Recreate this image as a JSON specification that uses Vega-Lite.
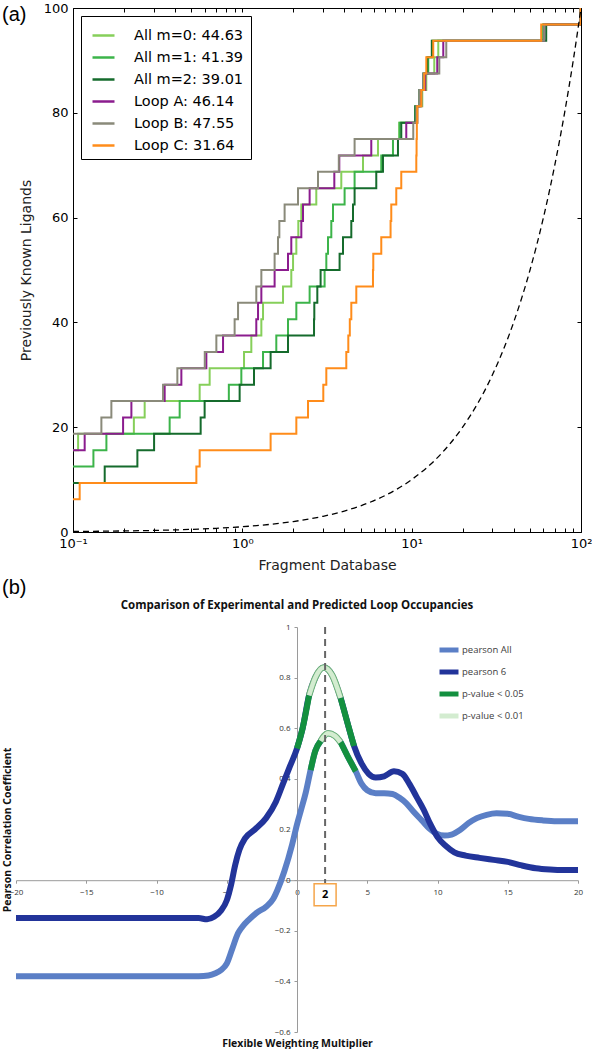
{
"$schema":"https://vega.github.io/schema/vega-lite/v6.json",
"background":"white",
"padding":{"left":2,"top":1,"right":0,"bottom":0},
"spacing":4,
"title":{"text":"(a)","anchor":"start","frame":"bounds","offset":-23,"font":"Liberation Sans","fontSize":20,"fontWeight":"normal","color":"black"},
"config":{"view":{"stroke":null}},
"resolve":{"scale":{"color":"independent"},"legend":{"color":"independent"}},
"datasets":{
"steps":[
{"series":"All m=0: 44.63","x":0.1,"y":15.625},{"series":"All m=0: 44.63","x":0.1072,"y":18.75},{"series":"All m=0: 44.63","x":0.2288,"y":21.875},{"series":"All m=0: 44.63","x":0.265,"y":25},{"series":"All m=0: 44.63","x":0.5597,"y":28.125},{"series":"All m=0: 44.63","x":0.6412,"y":31.25},{"series":"All m=0: 44.63","x":1.0233,"y":34.375},{"series":"All m=0: 44.63","x":1.13,"y":37.5},{"series":"All m=0: 44.63","x":1.295,"y":40.625},{"series":"All m=0: 44.63","x":1.325,"y":43.75},{"series":"All m=0: 44.63","x":1.739,"y":46.875},{"series":"All m=0: 44.63","x":1.946,"y":50},{"series":"All m=0: 44.63","x":1.993,"y":53.125},{"series":"All m=0: 44.63","x":2.084,"y":56.25},{"series":"All m=0: 44.63","x":2.141,"y":59.375},{"series":"All m=0: 44.63","x":2.23,"y":62.5},{"series":"All m=0: 44.63","x":2.734,"y":65.625},{"series":"All m=0: 44.63","x":3.841,"y":68.75},{"series":"All m=0: 44.63","x":5.16,"y":71.875},{"series":"All m=0: 44.63","x":6.325,"y":75},{"series":"All m=0: 44.63","x":8.449,"y":78.125},{"series":"All m=0: 44.63","x":10.79,"y":81.25},{"series":"All m=0: 44.63","x":11.55,"y":84.375},{"series":"All m=0: 44.63","x":12.2,"y":87.5},{"series":"All m=0: 44.63","x":13.6,"y":90.625},{"series":"All m=0: 44.63","x":14.36,"y":93.75},{"series":"All m=0: 44.63","x":59.8,"y":96.875},{"series":"All m=0: 44.63","x":99.5,"y":100},{"series":"All m=0: 44.63","x":100,"y":100},
{"series":"All m=1: 41.39","x":0.1,"y":12.5},{"series":"All m=1: 41.39","x":0.132,"y":15.625},{"series":"All m=1: 41.39","x":0.1575,"y":18.75},{"series":"All m=1: 41.39","x":0.3722,"y":21.875},{"series":"All m=1: 41.39","x":0.4265,"y":25},{"series":"All m=1: 41.39","x":0.8324,"y":28.125},{"series":"All m=1: 41.39","x":0.9865,"y":31.25},{"series":"All m=1: 41.39","x":1.325,"y":34.375},{"series":"All m=1: 41.39","x":1.587,"y":37.5},{"series":"All m=1: 41.39","x":1.861,"y":40.625},{"series":"All m=1: 41.39","x":2.084,"y":43.75},{"series":"All m=1: 41.39","x":2.497,"y":46.875},{"series":"All m=1: 41.39","x":3.061,"y":50},{"series":"All m=1: 41.39","x":3.133,"y":53.125},{"series":"All m=1: 41.39","x":3.206,"y":56.25},{"series":"All m=1: 41.39","x":3.353,"y":59.375},{"series":"All m=1: 41.39","x":3.431,"y":62.5},{"series":"All m=1: 41.39","x":4.017,"y":65.625},{"series":"All m=1: 41.39","x":4.602,"y":68.75},{"series":"All m=1: 41.39","x":6.615,"y":71.875},{"series":"All m=1: 41.39","x":7.755,"y":75},{"series":"All m=1: 41.39","x":8.484,"y":78.125},{"series":"All m=1: 41.39","x":10.5,"y":81.25},{"series":"All m=1: 41.39","x":11.24,"y":84.375},{"series":"All m=1: 41.39","x":11.87,"y":87.5},{"series":"All m=1: 41.39","x":12.53,"y":90.625},{"series":"All m=1: 41.39","x":13.23,"y":93.75},{"series":"All m=1: 41.39","x":59.8,"y":96.875},{"series":"All m=1: 41.39","x":99.5,"y":100},{"series":"All m=1: 41.39","x":100,"y":100},
{"series":"All m=2: 39.01","x":0.1,"y":9.375},{"series":"All m=2: 39.01","x":0.1539,"y":12.5},{"series":"All m=2: 39.01","x":0.24,"y":15.625},{"series":"All m=2: 39.01","x":0.3012,"y":18.75},{"series":"All m=2: 39.01","x":0.5674,"y":21.875},{"series":"All m=2: 39.01","x":0.5989,"y":25},{"series":"All m=2: 39.01","x":0.964,"y":28.125},{"series":"All m=2: 39.01","x":1.172,"y":31.25},{"series":"All m=2: 39.01","x":1.469,"y":34.375},{"series":"All m=2: 39.01","x":1.861,"y":37.5},{"series":"All m=2: 39.01","x":2.651,"y":40.625},{"series":"All m=2: 39.01","x":2.661,"y":43.75},{"series":"All m=2: 39.01","x":2.772,"y":46.875},{"series":"All m=2: 39.01","x":2.899,"y":50},{"series":"All m=2: 39.01","x":3.753,"y":53.125},{"series":"All m=2: 39.01","x":3.931,"y":56.25},{"series":"All m=2: 39.01","x":4.401,"y":59.375},{"series":"All m=2: 39.01","x":4.503,"y":62.5},{"series":"All m=2: 39.01","x":4.602,"y":65.625},{"series":"All m=2: 39.01","x":6.18,"y":68.75},{"series":"All m=2: 39.01","x":6.77,"y":71.875},{"series":"All m=2: 39.01","x":8.3,"y":75},{"series":"All m=2: 39.01","x":8.682,"y":78.125},{"series":"All m=2: 39.01","x":10.5,"y":81.25},{"series":"All m=2: 39.01","x":11.09,"y":84.375},{"series":"All m=2: 39.01","x":11.71,"y":87.5},{"series":"All m=2: 39.01","x":12.37,"y":90.625},{"series":"All m=2: 39.01","x":13.15,"y":93.75},{"series":"All m=2: 39.01","x":62.3,"y":96.875},{"series":"All m=2: 39.01","x":99.5,"y":100},{"series":"All m=2: 39.01","x":100,"y":100},
{"series":"Loop A: 46.14","x":0.1,"y":15.625},{"series":"Loop A: 46.14","x":0.1172,"y":18.75},{"series":"Loop A: 46.14","x":0.1976,"y":21.875},{"series":"Loop A: 46.14","x":0.2212,"y":25},{"series":"Loop A: 46.14","x":0.3478,"y":28.125},{"series":"Loop A: 46.14","x":0.4364,"y":31.25},{"series":"Loop A: 46.14","x":0.613,"y":34.375},{"series":"Loop A: 46.14","x":0.7693,"y":37.5},{"series":"Loop A: 46.14","x":1.209,"y":40.625},{"series":"Loop A: 46.14","x":1.238,"y":43.75},{"series":"Loop A: 46.14","x":1.295,"y":46.875},{"series":"Loop A: 46.14","x":1.551,"y":50},{"series":"Loop A: 46.14","x":1.861,"y":53.125},{"series":"Loop A: 46.14","x":1.946,"y":56.25},{"series":"Loop A: 46.14","x":2.23,"y":59.375},{"series":"Loop A: 46.14","x":2.282,"y":62.5},{"series":"Loop A: 46.14","x":2.497,"y":65.625},{"series":"Loop A: 46.14","x":3.493,"y":68.75},{"series":"Loop A: 46.14","x":3.738,"y":71.875},{"series":"Loop A: 46.14","x":5.774,"y":75},{"series":"Loop A: 46.14","x":9.292,"y":78.125},{"series":"Loop A: 46.14","x":10.79,"y":81.25},{"series":"Loop A: 46.14","x":11.39,"y":84.375},{"series":"Loop A: 46.14","x":12.03,"y":87.5},{"series":"Loop A: 46.14","x":14.16,"y":90.625},{"series":"Loop A: 46.14","x":15.37,"y":93.75},{"series":"Loop A: 46.14","x":60.6,"y":96.875},{"series":"Loop A: 46.14","x":99.5,"y":100},{"series":"Loop A: 46.14","x":100,"y":100},
{"series":"Loop B: 47.55","x":0.1,"y":18.75},{"series":"Loop B: 47.55","x":0.1471,"y":21.875},{"series":"Loop B: 47.55","x":0.1685,"y":25},{"series":"Loop B: 47.55","x":0.3402,"y":28.125},{"series":"Loop B: 47.55","x":0.4133,"y":31.25},{"series":"Loop B: 47.55","x":0.6,"y":34.375},{"series":"Loop B: 47.55","x":0.7023,"y":37.5},{"series":"Loop B: 47.55","x":0.9005,"y":40.625},{"series":"Loop B: 47.55","x":0.9433,"y":43.75},{"series":"Loop B: 47.55","x":1.209,"y":46.875},{"series":"Loop B: 47.55","x":1.295,"y":50},{"series":"Loop B: 47.55","x":1.551,"y":53.125},{"series":"Loop B: 47.55","x":1.624,"y":56.25},{"series":"Loop B: 47.55","x":1.654,"y":59.375},{"series":"Loop B: 47.55","x":1.777,"y":62.5},{"series":"Loop B: 47.55","x":2.132,"y":65.625},{"series":"Loop B: 47.55","x":2.798,"y":68.75},{"series":"Loop B: 47.55","x":3.713,"y":71.875},{"series":"Loop B: 47.55","x":4.602,"y":75},{"series":"Loop B: 47.55","x":10.22,"y":78.125},{"series":"Loop B: 47.55","x":10.65,"y":81.25},{"series":"Loop B: 47.55","x":11.09,"y":84.375},{"series":"Loop B: 47.55","x":11.71,"y":87.5},{"series":"Loop B: 47.55","x":14.56,"y":90.625},{"series":"Loop B: 47.55","x":16.01,"y":93.75},{"series":"Loop B: 47.55","x":60.6,"y":96.875},{"series":"Loop B: 47.55","x":99.5,"y":100},{"series":"Loop B: 47.55","x":100,"y":100},
{"series":"Loop C: 31.64","x":0.1,"y":6.25},{"series":"Loop C: 31.64","x":0.1095,"y":9.375},{"series":"Loop C: 31.64","x":0.5352,"y":12.5},{"series":"Loop C: 31.64","x":0.5597,"y":15.625},{"series":"Loop C: 31.64","x":1.469,"y":18.75},{"series":"Loop C: 31.64","x":2.084,"y":21.875},{"series":"Loop C: 31.64","x":2.443,"y":25},{"series":"Loop C: 31.64","x":3.007,"y":28.125},{"series":"Loop C: 31.64","x":3.133,"y":31.25},{"series":"Loop C: 31.64","x":4.111,"y":34.375},{"series":"Loop C: 31.64","x":4.225,"y":37.5},{"series":"Loop C: 31.64","x":4.312,"y":40.625},{"series":"Loop C: 31.64","x":4.401,"y":43.75},{"series":"Loop C: 31.64","x":4.71,"y":46.875},{"series":"Loop C: 31.64","x":5.909,"y":50},{"series":"Loop C: 31.64","x":5.933,"y":53.125},{"series":"Loop C: 31.64","x":6.615,"y":56.25},{"series":"Loop C: 31.64","x":7.506,"y":59.375},{"series":"Loop C: 31.64","x":7.578,"y":62.5},{"series":"Loop C: 31.64","x":8.111,"y":65.625},{"series":"Loop C: 31.64","x":8.682,"y":68.75},{"series":"Loop C: 31.64","x":10.65,"y":71.875},{"series":"Loop C: 31.64","x":10.69,"y":75},{"series":"Loop C: 31.64","x":10.73,"y":78.125},{"series":"Loop C: 31.64","x":10.79,"y":81.25},{"series":"Loop C: 31.64","x":11.39,"y":84.375},{"series":"Loop C: 31.64","x":11.87,"y":87.5},{"series":"Loop C: 31.64","x":12.2,"y":90.625},{"series":"Loop C: 31.64","x":13.41,"y":93.75},{"series":"Loop C: 31.64","x":58.2,"y":96.875},{"series":"Loop C: 31.64","x":99.5,"y":100},{"series":"Loop C: 31.64","x":100,"y":100}
],
"random":[
{"x":0.1,"y":0.1},{"x":0.2,"y":0.2},{"x":0.3,"y":0.3},{"x":0.5,"y":0.5},{"x":0.7,"y":0.7},{"x":1,"y":1},{"x":1.5,"y":1.5},{"x":2,"y":2},{"x":3,"y":3},{"x":4,"y":4},{"x":5,"y":5},{"x":7,"y":7},{"x":10,"y":10},{"x":15,"y":15},{"x":20,"y":20},{"x":30,"y":30},{"x":40,"y":40},{"x":50,"y":50},{"x":60,"y":60},{"x":70,"y":70},{"x":80,"y":80},{"x":90,"y":90},{"x":100,"y":100}
],
"pearson":[
{"series":"pearson All","x":-20,"y":-0.38},{"series":"pearson All","x":-15,"y":-0.38},{"series":"pearson All","x":-10,"y":-0.38},{"series":"pearson All","x":-7,"y":-0.38},{"series":"pearson All","x":-6.3,"y":-0.377},{"series":"pearson All","x":-5.8,"y":-0.368},{"series":"pearson All","x":-5.4,"y":-0.355},{"series":"pearson All","x":-5.0,"y":-0.33},{"series":"pearson All","x":-4.6,"y":-0.27},{"series":"pearson All","x":-4.2,"y":-0.21},{"series":"pearson All","x":-3.9,"y":-0.185},{"series":"pearson All","x":-3.4,"y":-0.155},{"series":"pearson All","x":-2.9,"y":-0.13},{"series":"pearson All","x":-2.2,"y":-0.105},{"series":"pearson All","x":-1.7,"y":-0.075},{"series":"pearson All","x":-1.4,"y":-0.04},{"series":"pearson All","x":-0.9,"y":0.035},{"series":"pearson All","x":-0.35,"y":0.14},{"series":"pearson All","x":0,"y":0.22},{"series":"pearson All","x":0.3,"y":0.28},{"series":"pearson All","x":0.62,"y":0.345},{"series":"pearson All","x":0.97,"y":0.435},{"series":"pearson All","x":1.3,"y":0.51},{"series":"pearson All","x":1.69,"y":0.55},{"series":"pearson All","x":2.2,"y":0.58},{"series":"pearson All","x":2.7,"y":0.57},{"series":"pearson All","x":3.1,"y":0.545},{"series":"pearson All","x":3.6,"y":0.49},{"series":"pearson All","x":4.18,"y":0.43},{"series":"pearson All","x":4.6,"y":0.38},{"series":"pearson All","x":5.0,"y":0.355},{"series":"pearson All","x":5.6,"y":0.343},{"series":"pearson All","x":6.2,"y":0.343},{"series":"pearson All","x":6.8,"y":0.34},{"series":"pearson All","x":7.3,"y":0.325},{"series":"pearson All","x":7.75,"y":0.305},{"series":"pearson All","x":8.3,"y":0.27},{"series":"pearson All","x":8.9,"y":0.235},{"series":"pearson All","x":9.4,"y":0.205},{"series":"pearson All","x":9.9,"y":0.185},{"series":"pearson All","x":10.5,"y":0.176},{"series":"pearson All","x":11.0,"y":0.18},{"series":"pearson All","x":11.6,"y":0.198},{"series":"pearson All","x":12.2,"y":0.225},{"series":"pearson All","x":12.8,"y":0.245},{"series":"pearson All","x":13.5,"y":0.258},{"series":"pearson All","x":14.2,"y":0.264},{"series":"pearson All","x":15.0,"y":0.262},{"series":"pearson All","x":15.8,"y":0.25},{"series":"pearson All","x":16.5,"y":0.242},{"series":"pearson All","x":17.5,"y":0.236},{"series":"pearson All","x":18.5,"y":0.233},{"series":"pearson All","x":20,"y":0.233},
{"series":"pearson 6","x":-20,"y":-0.15},{"series":"pearson 6","x":-15,"y":-0.15},{"series":"pearson 6","x":-10,"y":-0.15},{"series":"pearson 6","x":-7,"y":-0.15},{"series":"pearson 6","x":-6.4,"y":-0.155},{"series":"pearson 6","x":-5.9,"y":-0.145},{"series":"pearson 6","x":-5.4,"y":-0.12},{"series":"pearson 6","x":-5.0,"y":-0.08},{"series":"pearson 6","x":-4.7,"y":-0.02},{"series":"pearson 6","x":-4.4,"y":0.06},{"series":"pearson 6","x":-4.1,"y":0.12},{"series":"pearson 6","x":-3.7,"y":0.165},{"series":"pearson 6","x":-3.0,"y":0.2},{"series":"pearson 6","x":-2.2,"y":0.245},{"series":"pearson 6","x":-1.5,"y":0.31},{"series":"pearson 6","x":-1.0,"y":0.38},{"series":"pearson 6","x":-0.5,"y":0.45},{"series":"pearson 6","x":0,"y":0.52},{"series":"pearson 6","x":0.4,"y":0.6},{"series":"pearson 6","x":0.86,"y":0.73},{"series":"pearson 6","x":1.3,"y":0.8},{"series":"pearson 6","x":1.9,"y":0.84},{"series":"pearson 6","x":2.5,"y":0.81},{"series":"pearson 6","x":3.1,"y":0.72},{"series":"pearson 6","x":3.6,"y":0.62},{"series":"pearson 6","x":4.06,"y":0.53},{"series":"pearson 6","x":4.6,"y":0.46},{"series":"pearson 6","x":5.1,"y":0.42},{"series":"pearson 6","x":5.6,"y":0.405},{"series":"pearson 6","x":6.2,"y":0.41},{"series":"pearson 6","x":6.9,"y":0.43},{"series":"pearson 6","x":7.5,"y":0.42},{"series":"pearson 6","x":8.0,"y":0.38},{"series":"pearson 6","x":8.5,"y":0.33},{"series":"pearson 6","x":9.0,"y":0.28},{"series":"pearson 6","x":9.5,"y":0.22},{"series":"pearson 6","x":10.0,"y":0.17},{"series":"pearson 6","x":10.6,"y":0.135},{"series":"pearson 6","x":11.2,"y":0.11},{"series":"pearson 6","x":12,"y":0.097},{"series":"pearson 6","x":13,"y":0.088},{"series":"pearson 6","x":14,"y":0.08},{"series":"pearson 6","x":15,"y":0.072},{"series":"pearson 6","x":16,"y":0.058},{"series":"pearson 6","x":17,"y":0.047},{"series":"pearson 6","x":18,"y":0.042},{"series":"pearson 6","x":19,"y":0.04},{"series":"pearson 6","x":20,"y":0.04}
],
"sig05":[
{"series":"p-value < 0.05","seg":"6a","x":0,"y":0.52},{"series":"p-value < 0.05","seg":"6a","x":0.4,"y":0.6},{"series":"p-value < 0.05","seg":"6a","x":0.86,"y":0.73},
{"series":"p-value < 0.05","seg":"6b","x":3.1,"y":0.72},{"series":"p-value < 0.05","seg":"6b","x":3.6,"y":0.62},{"series":"p-value < 0.05","seg":"6b","x":4.06,"y":0.53},
{"series":"p-value < 0.05","seg":"Aa","x":0.97,"y":0.435},{"series":"p-value < 0.05","seg":"Aa","x":1.3,"y":0.51},{"series":"p-value < 0.05","seg":"Aa","x":1.69,"y":0.55},
{"series":"p-value < 0.05","seg":"Ab","x":3.1,"y":0.545},{"series":"p-value < 0.05","seg":"Ab","x":3.6,"y":0.49},{"series":"p-value < 0.05","seg":"Ab","x":4.18,"y":0.43}
],
"sig01":[
{"series":"p-value < 0.01","seg":"6","x":0.86,"y":0.73},{"series":"p-value < 0.01","seg":"6","x":1.3,"y":0.8},{"series":"p-value < 0.01","seg":"6","x":1.9,"y":0.84},{"series":"p-value < 0.01","seg":"6","x":2.5,"y":0.81},{"series":"p-value < 0.01","seg":"6","x":3.1,"y":0.72},
{"series":"p-value < 0.01","seg":"A","x":1.69,"y":0.55},{"series":"p-value < 0.01","seg":"A","x":2.2,"y":0.58},{"series":"p-value < 0.01","seg":"A","x":2.7,"y":0.57},{"series":"p-value < 0.01","seg":"A","x":3.1,"y":0.545}
],
"cut":[{"x":2,"top":1,"bottom":-0.012}],
"marker":[{"x":2,"y":-0.058,"label":"2"}]
},
"vconcat":[
{
"spacing":0,
"resolve":{"scale":{"color":"independent"},"legend":{"color":"independent"}},
"hconcat":[
{"width":2,"height":10,"data":{"values":[]},"mark":"point"},
{
"width":508,"height":524,
"view":{"stroke":"black","strokeWidth":1},
"resolve":{"axis":{"x":"independent","y":"independent"}},
"layer":[
{"data":{"name":"steps"},
"mark":{"type":"line","interpolate":"step-after","strokeWidth":2,"clip":true},
"encoding":{
"x":{"field":"x","type":"quantitative","scale":{"type":"log","domain":[0.1,100],"nice":false},
"axis":{"title":"Fragment Database","values":[0.1,0.2,0.3,0.4,0.5,0.6,0.7,0.8,0.9,1,2,3,4,5,6,7,8,9,10,20,30,40,50,60,70,80,90,100],
"labelExpr":"datum.value == 0.1 ? '10⁻¹' : datum.value == 1 ? '10⁰' : datum.value == 10 ? '10¹' : datum.value == 100 ? '10²' : ''",
"domain":false,"grid":false,"tickSize":-4,"tickColor":"black","labelPadding":9,"labelFont":"DejaVu Sans","labelFontSize":13,"labelColor":"black","labelFlush":false,"labelOverlap":false,"titleFont":"DejaVu Sans","titleFontSize":14,"titleFontWeight":"normal","titleColor":"#222","titlePadding":8}},
"y":{"field":"y","type":"quantitative","scale":{"domain":[0,100],"nice":false},
"axis":{"title":"Previously Known Ligands","values":[0,20,40,60,80,100],"domain":false,"grid":false,"tickSize":-4,"tickColor":"black","labelPadding":9,"labelFont":"DejaVu Sans","labelFontSize":13,"labelColor":"black","titleFont":"DejaVu Sans","titleFontSize":14,"titleFontWeight":"normal","titleColor":"#222","titlePadding":10}},
"color":{"field":"series","type":"nominal",
"scale":{"domain":["All m=0: 44.63","All m=1: 41.39","All m=2: 39.01","Loop A: 46.14","Loop B: 47.55","Loop C: 31.64"],"range":["#86cf5a","#3cb44a","#156b2c","#8b1c8e","#8a8a7a","#ff8c1a"]},
"legend":{"orient":"top-left","offset":8,"title":null,"symbolType":"stroke","symbolStrokeWidth":2.5,"symbolSize":484,"labelFont":"DejaVu Sans","labelFontSize":14.5,"labelColor":"black","labelOffset":18,"symbolOffset":3,"rowPadding":3,"padding":7,"strokeColor":"black","fillColor":"white","cornerRadius":0}}
}},
{"data":{"name":"random"},
"mark":{"type":"line","interpolate":"monotone","strokeDash":[6,4],"strokeWidth":1.3,"color":"black","clip":true},
"encoding":{
"x":{"field":"x","type":"quantitative","axis":{"orient":"top","title":null,"labels":false,"domain":false,"grid":false,"tickSize":-4,"tickColor":"black","values":[0.1,0.2,0.3,0.4,0.5,0.6,0.7,0.8,0.9,1,2,3,4,5,6,7,8,9,10,20,30,40,50,60,70,80,90,100]}},
"y":{"field":"y","type":"quantitative","axis":{"orient":"right","title":null,"labels":false,"domain":false,"grid":false,"tickSize":-4,"tickColor":"black","values":[0,20,40,60,80,100]}}}}
]
}
]
},
{
"title":{"text":"(b)","anchor":"start","frame":"bounds","font":"Liberation Sans","fontSize":20,"fontWeight":"normal","color":"black","offset":2},
"vconcat":[
{
"width":562,"height":405,
"title":{"text":"Comparison of Experimental and Predicted Loop Occupancies","anchor":"middle","frame":"group","font":"Open Sans","fontSize":11.5,"fontWeight":"bold","color":"#111","offset":12},
"layer":[
{"data":{"name":"pearson"},
"mark":{"type":"line","interpolate":"monotone","strokeWidth":6},
"encoding":{
"x":{"field":"x","type":"quantitative","scale":{"domain":[-20,20],"nice":false},
"axis":{"title":"Flexible Weighting Multiplier","values":[-20,-15,-10,-5,0,5,10,15,20],"offset":-151.8,"grid":false,"domainColor":"#9a9a9a","tickColor":"#9a9a9a","tickSize":3,"labelFont":"Open Sans","labelFontSize":8,"labelColor":"#333","labelPadding":5,"labelFlush":false,"labelOverlap":false,"titleFont":"Open Sans","titleFontSize":10.5,"titleFontWeight":"bold","titleColor":"#111","titleY":163,"titleBaseline":"middle"}},
"y":{"field":"y","type":"quantitative","scale":{"domain":[-0.6,1],"nice":false,"zero":false},
"axis":{"title":"Pearson Correlation Coefficient","values":[-0.6,-0.4,-0.2,0,0.2,0.4,0.6,0.8,1],"format":"~g","offset":-281,"grid":false,"domainColor":"#9a9a9a","tickColor":"#9a9a9a","tickSize":3,"labelFont":"Open Sans","labelFontSize":8,"labelColor":"#333","labelPadding":4,"labelOverlap":false,"titleFont":"Open Sans","titleFontSize":10.5,"titleFontWeight":"bold","titleColor":"#111","titleX":-285}},
"color":{"field":"series","type":"nominal",
"scale":{"domain":["pearson All","pearson 6","p-value < 0.05","p-value < 0.01"],"range":["#5b7fc6","#22349a","#13903f","#d3ecd0"]},
"legend":{"orient":"none","legendX":421,"legendY":11,"title":null,"symbolType":"stroke","symbolStrokeWidth":5,"symbolSize":361,"labelFont":"Open Sans","labelFontSize":9.5,"labelColor":"#404040","labelOffset":1,"rowPadding":-3,"padding":0}}
}},
{"data":{"name":"sig05"},
"mark":{"type":"line","interpolate":"monotone","strokeWidth":6},
"encoding":{"x":{"field":"x","type":"quantitative"},"y":{"field":"y","type":"quantitative"},"detail":{"field":"seg"},"color":{"field":"series","type":"nominal"}}},
{"data":{"name":"sig01"},
"mark":{"type":"line","interpolate":"monotone","strokeWidth":6.5,"color":"#6fb37a"},
"encoding":{"x":{"field":"x","type":"quantitative"},"y":{"field":"y","type":"quantitative"},"detail":{"field":"seg"}}},
{"data":{"name":"sig01"},
"mark":{"type":"line","interpolate":"monotone","strokeWidth":4.5},
"encoding":{"x":{"field":"x","type":"quantitative"},"y":{"field":"y","type":"quantitative"},"detail":{"field":"seg"},"color":{"field":"series","type":"nominal"}}},
{"data":{"name":"cut"},
"mark":{"type":"rule","strokeDash":[7,5],"strokeWidth":2,"color":"#666"},
"encoding":{"x":{"field":"x","type":"quantitative"},"y":{"field":"top","type":"quantitative"},"y2":{"field":"bottom"}}},
{"data":{"name":"marker"},
"mark":{"type":"point","shape":"square","size":484,"filled":false,"stroke":"#f5a54a","strokeWidth":1.5,"opacity":1},
"encoding":{"x":{"field":"x","type":"quantitative"},"y":{"field":"y","type":"quantitative"}}},
{"data":{"name":"marker"},
"mark":{"type":"text","font":"Open Sans","fontSize":11,"fontWeight":"bold","color":"black"},
"encoding":{"x":{"field":"x","type":"quantitative"},"y":{"field":"y","type":"quantitative"},"text":{"field":"label"}}}
]
}
]
}
]
}
